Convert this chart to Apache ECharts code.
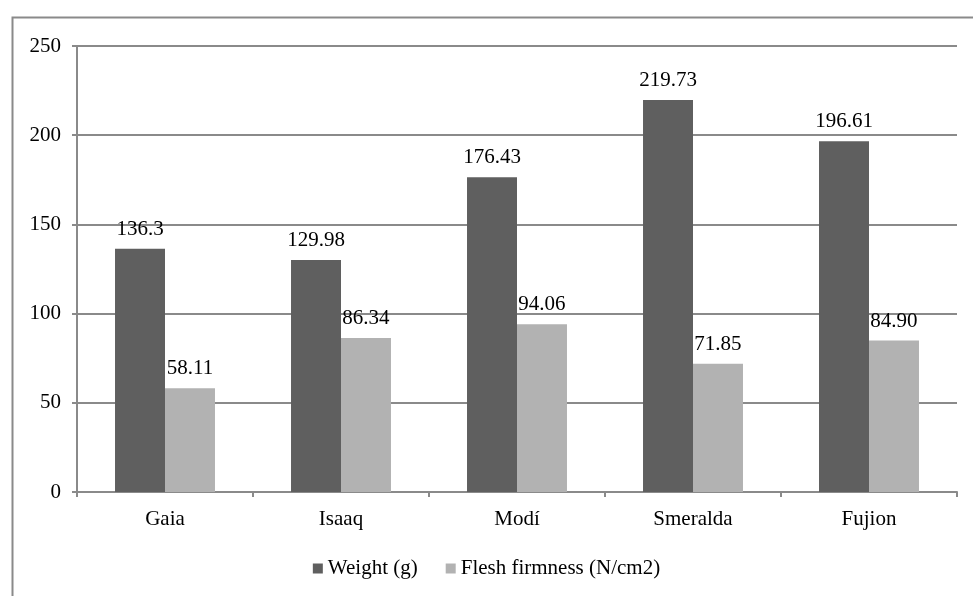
<!DOCTYPE html>
<html>
<head>
<meta charset="utf-8">
<script src="https://cdn.jsdelivr.net/npm/echarts@6/dist/echarts.min.js"></script>
<style>html,body{margin:0;padding:0;background:#fff;}#c{width:973px;height:596px;}</style>
</head>
<body>
<div id="c"></div>
<script>
var categories = ['Gaia', 'Isaaq', 'Modí', 'Smeralda', 'Fujion'];
var weight = [136.3, 129.98, 176.43, 219.73, 196.61];
var weightLabels = ['136.3', '129.98', '176.43', '219.73', '196.61'];
var firmness = [58.11, 86.34, 94.06, 71.85, 84.90];
var firmnessLabels = ['58.11', '86.34', '94.06', '71.85', '84.90'];
var yTicks = [0, 50, 100, 150, 200, 250];

var font = 'Liberation Serif';
var chart = echarts.init(document.getElementById('c'));
chart.setOption({
  animation: false,
  backgroundColor: '#fff',
  textStyle: { fontFamily: font },
  graphic: [{
    type: 'rect', left: 10, top: 15, z: -1,
    shape: { width: 1000, height: 1000 },
    style: { fill: 'none', stroke: '#8a8a8a', lineWidth: 2 }
  }],
  grid: { left: 77, right: 16, top: 46, bottom: 104 },
  legend: {
    bottom: 12, left: 'center',
    itemWidth: 10, itemHeight: 10, itemGap: 28,
    icon: 'rect',
    textStyle: { fontFamily: font, fontSize: 21, color: '#000' },
    data: ['Weight (g)', 'Flesh firmness (N/cm2)']
  },
  xAxis: {
    type: 'category', data: categories,
    axisLine: { lineStyle: { color: '#8a8a8a', width: 2 } },
    axisTick: { show: true, length: 5, lineStyle: { color: '#8a8a8a', width: 2 } },
    axisLabel: { fontFamily: font, fontSize: 21, color: '#000', margin: 17 }
  },
  yAxis: {
    type: 'value', min: yTicks[0], max: yTicks[yTicks.length - 1], interval: 50,
    axisLine: { show: true, lineStyle: { color: '#8a8a8a', width: 2 } },
    axisTick: { show: true, length: 5, lineStyle: { color: '#8a8a8a', width: 2 } },
    splitLine: { lineStyle: { color: '#8a8a8a', width: 2 } },
    axisLabel: { fontFamily: font, fontSize: 21, color: '#000', margin: 16 }
  },
  series: [{
    name: 'Weight (g)', type: 'bar', data: weight,
    barWidth: '28.4%', barGap: '0%',
    itemStyle: { color: '#5f5f5f' },
    label: {
      show: true, position: 'top', distance: 9,
      fontFamily: font, fontSize: 21, color: '#000',
      formatter: function (p) { return weightLabels[p.dataIndex]; }
    }
  }, {
    name: 'Flesh firmness (N/cm2)', type: 'bar', data: firmness,
    barWidth: '28.4%', barGap: '0%',
    itemStyle: { color: '#b2b2b2' },
    label: {
      show: true, position: 'top', distance: 9,
      fontFamily: font, fontSize: 21, color: '#000',
      formatter: function (p) { return firmnessLabels[p.dataIndex]; }
    }
  }]
});
</script>
</body>
</html>
